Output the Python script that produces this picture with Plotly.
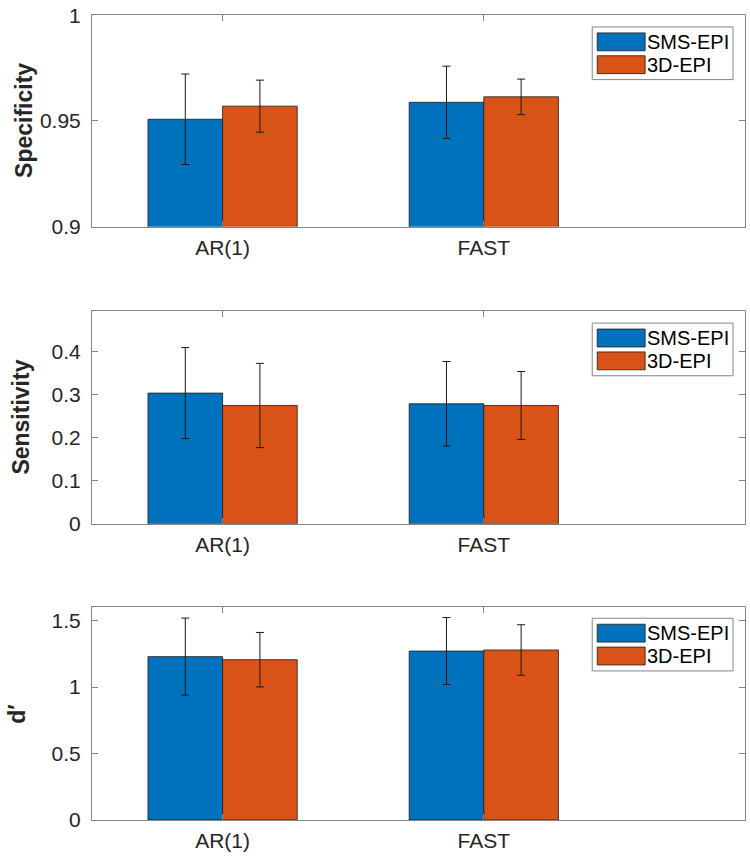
import plotly.graph_objects as go

categories = ["AR(1)", "FAST"]
cat_pos = [1, 2]
series_names = ["SMS-EPI", "3D-EPI"]

spec_sms = [0.9508, 0.9588]
spec_sms_err = [0.0214, 0.0171]
spec_3d = [0.9570, 0.9614]
spec_3d_err = [0.0123, 0.0084]

sens_sms = [0.3043, 0.2794]
sens_sms_err = [0.106, 0.0985]
sens_3d = [0.2755, 0.2755]
sens_3d_err = [0.098, 0.079]

dp_sms = [1.229, 1.271]
dp_sms_err = [0.29, 0.252]
dp_3d = [1.206, 1.279]
dp_3d_err = [0.205, 0.19]

ylabels = ["Specificity", "Sensitivity", "d\u2032"]
yranges = [[0.9, 1.0001], [0, 0.495], [0, 1.6]]
ytickvals = [[0.9, 0.95, 1.0], [0, 0.1, 0.2, 0.3, 0.4], [0, 0.5, 1, 1.5]]
yticktext = [["0.9", "0.95", "1"], ["0", "0.1", "0.2", "0.3", "0.4"], ["0", "0.5", "1", "1.5"]]

colors = ["#0072BD", "#D95319"]

W, H = 750, 857
ML, MR, MT, MB = 92, 4, 10, 37
PW = W - ML - MR
PH = H - MT - MB


def px_x(pix):
    return (pix - ML) / PW


def px_y(pix):
    return (H - MB - pix) / PH


domains = [[px_y(223), px_y(10)], [px_y(522), px_y(308)], [px_y(820), px_y(606)]]
legend_tops = [22, 320, 617]
ylabel_x = [24, 20, 17]

fig = go.Figure()
panels = [
    (spec_sms, spec_sms_err, spec_3d, spec_3d_err),
    (sens_sms, sens_sms_err, sens_3d, sens_3d_err),
    (dp_sms, dp_sms_err, dp_3d, dp_3d_err),
]

axis_col = "#858585"
text_col = "#262626"
font_fam = "Liberation Sans, Arial, sans-serif"
FS = 21

for i, (a, ae, b, be) in enumerate(panels):
    xa = "x" if i == 0 else f"x{i+1}"
    ya = "y" if i == 0 else f"y{i+1}"
    for name, vals, errs, col in [(series_names[0], a, ae, colors[0]), (series_names[1], b, be, colors[1])]:
        fig.add_trace(go.Bar(
            x=cat_pos, y=vals, name=name, showlegend=False,
            marker=dict(color=col, line=dict(color="#1a1a1a", width=0.8)),
            error_y=dict(type="data", array=errs, visible=True, color="#1a1a1a", thickness=1, width=4),
            xaxis=xa, yaxis=ya, offsetgroup=name,
        ))
    xkey = "xaxis" if i == 0 else f"xaxis{i+1}"
    ykey = "yaxis" if i == 0 else f"yaxis{i+1}"
    fig.layout[xkey] = dict(
        domain=[0, 1], anchor=ya, range=[0.5, 3], tickvals=cat_pos, ticktext=categories,
        ticks="inside", ticklen=6, tickcolor=axis_col, showline=True, linecolor=axis_col, linewidth=1,
        mirror="allticks", showgrid=False, zeroline=False,
        tickfont=dict(family=font_fam, size=FS, color=text_col), ticklabelstandoff=2,
    )
    fig.layout[ykey] = dict(
        domain=domains[i], anchor=xa, range=yranges[i], tickvals=ytickvals[i], ticktext=yticktext[i],
        ticks="inside", ticklen=6, tickcolor=axis_col, showline=True, linecolor=axis_col, linewidth=1,
        mirror="allticks", showgrid=False, zeroline=False, ticklabeloverflow="allow",
        tickfont=dict(family=font_fam, size=FS, color=text_col), ticklabelstandoff=6,
    )
    fig.add_annotation(
        text=f"<b>{ylabels[i]}</b>", textangle=-90, xref="paper", yref="paper",
        x=px_x(ylabel_x[i]), y=(domains[i][0] + domains[i][1]) / 2, xanchor="center", yanchor="middle",
        showarrow=False, font=dict(family=font_fam, size=23, color=text_col),
    )
    top = legend_tops[i]
    fig.add_shape(type="rect", xref="paper", yref="paper",
                  x0=px_x(593), x1=px_x(734), y0=px_y(top + 53), y1=px_y(top),
                  line=dict(color=axis_col, width=1), fillcolor="white", layer="above")
    for k, (name, col) in enumerate(zip(series_names, colors)):
        r0 = top + 6 + 23 * k
        fig.add_shape(type="rect", xref="paper", yref="paper",
                      x0=px_x(598), x1=px_x(646), y0=px_y(r0 + 18), y1=px_y(r0),
                      line=dict(color="#1a1a1a", width=0.8), fillcolor=col, layer="above")
        fig.add_annotation(
            text=name, xref="paper", yref="paper", x=px_x(646), y=px_y(r0 + 9),
            xanchor="left", yanchor="middle", showarrow=False,
            font=dict(family=font_fam, size=20, color="#000"),
        )

fig.update_layout(
    width=W, height=H, margin=dict(l=ML, r=MR, t=MT, b=MB),
    plot_bgcolor="white", paper_bgcolor="white", barmode="group", bargap=0.4286, bargroupgap=0,
    showlegend=False,
)

fig.write_html("out.html", post_script="document.body.style.margin='0';",
               config={"displayModeBar": False})
